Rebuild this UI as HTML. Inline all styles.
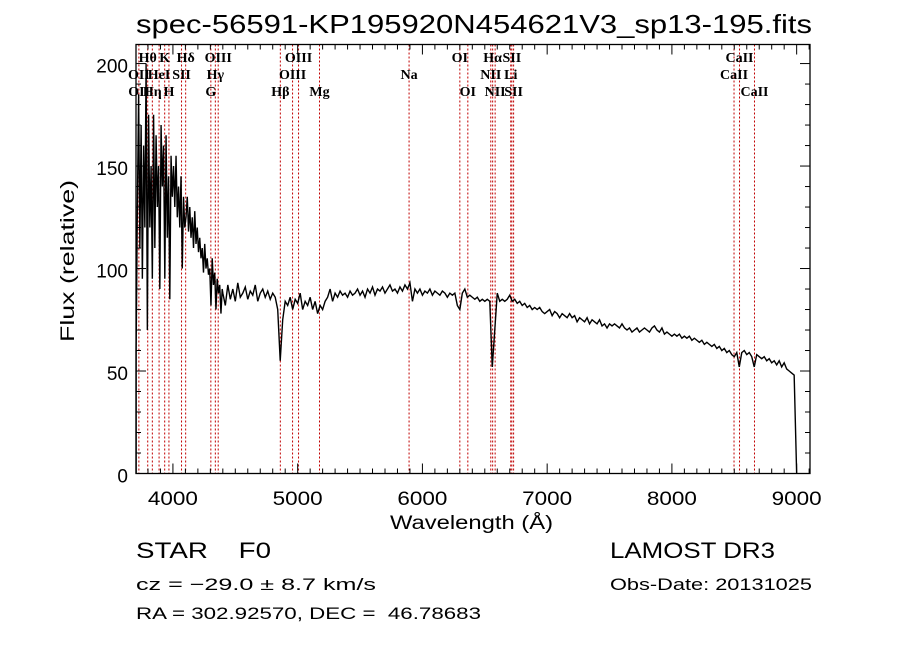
<!DOCTYPE html>
<html><head><meta charset="utf-8"><title>LAMOST spectrum</title>
<style>
html,body{margin:0;padding:0;background:#fff;}
svg{display:block;}
text{font-family:"Liberation Sans",sans-serif;fill:#000;white-space:pre;}
.ser{font-family:"Liberation Serif",serif;}
</style></head>
<body>
<svg id="chart" width="900" height="649" viewBox="0 0 900 649" xmlns="http://www.w3.org/2000/svg" xml:space="preserve">
  <rect x="0" y="0" width="900" height="649" fill="#fff"/>
  <text x="136" y="33" font-size="26" textLength="676" lengthAdjust="spacingAndGlyphs">spec-56591-KP195920N454621V3_sp13-195.fits</text>
  <g id="lines"></g>
  <g id="linelabels"></g>
  <g id="series"></g>
  <rect x="136" y="44.5" width="674" height="429" fill="none" stroke="#000" stroke-width="1.3"/>
  <g id="ticks"></g>
  <g id="ticklabels"></g>
  <text x="390" y="529" font-size="19" textLength="163" lengthAdjust="spacingAndGlyphs">Wavelength (Å)</text>
  <text transform="translate(74,342) rotate(-90)" x="0" y="0" font-size="19" textLength="162" lengthAdjust="spacingAndGlyphs">Flux (relative)</text>
  <text x="136" y="558" font-size="22" textLength="135" lengthAdjust="spacingAndGlyphs">STAR    F0</text>
  <text x="136" y="590" font-size="17" textLength="240" lengthAdjust="spacingAndGlyphs">cz = −29.0 ± 8.7 km/s</text>
  <text x="136" y="619" font-size="17" textLength="345" lengthAdjust="spacingAndGlyphs">RA = 302.92570, DEC =  46.78683</text>
  <text x="610" y="558" font-size="22" textLength="165" lengthAdjust="spacingAndGlyphs">LAMOST DR3</text>
  <text x="610" y="590" font-size="17" textLength="202" lengthAdjust="spacingAndGlyphs">Obs-Date: 20131025</text>
</svg>
<script>
// ---- data ----
const xTickValues = [4000, 5000, 6000, 7000, 8000, 9000];
const xTickLabels = ["4000", "5000", "6000", "7000", "8000", "9000"];
const yTickValues = [0, 50, 100, 150, 200];
const yTickLabels = ["0", "50", "100", "150", "200"];
const lineWaves = [3727,3798,3835,3889,3934,3968,4069,4102,4304,4340,4363,4861,4959,5007,5175,5893,6300,6364,6548,6563,6583,6708,6717,6731,8498,8542,8662];
const lineLabelNames = ["Hθ","K","Hδ","OIII","OIII","OI","Hα","SII","CaII",
                        "OII","HeI","SII","Hγ","OIII","Na","NII","Li","CaII",
                        "OII","Hη","H","G","Hβ","Mg","OI","NII","SII","CaII"];
const lineLabelWaves = [3798,3934,4102,4363,5007,6300,6563,6717,8542,
                        3727,3889,4069,4340,4959,5893,6548,6708,8498,
                        3729,3835,3968,4304,4861,5175,6364,6583,6731,8662];
const lineLabelRows = [0,0,0,0,0,0,0,0,0, 1,1,1,1,1,1,1,1,1, 2,2,2,2,2,2,2,2,2,2];
const blueStart = 3705, blueStep = 10;
const blueFlux = [60,130,185,110,170,95,160,120,200,70,175,120,150,95,175,110,165,130,150,90,170,140,160,95,165,115,145,85,155,135,150,130,155,125,140,120,145,100,135,120,125,135,118,130,115,125,110,128,112,120,108,115,105,110,98,112,100,105,97,100,82,105,92,98,80,95,88,92,78,90];
const redStart = 4400, redStep = 20;
const redFlux = [88,82,92,85,90,84,93,86,88,91,85,89,87,92,84,88,90,86,89,85,88,
86,80,55,75,84,82,86,80,85,83,88,80,84,82,86,80,84,78,82,80,84,86,90,84,88,86,89,87,88,86,89,87,88,90,87,89,86,90,88,91,87,90,89,91,88,90,92,89,90,88,91,89,92,90,93,84,90,88,90,87,89,88,90,87,89,88,87,89,88,86,88,87,88,82,80,88,90,86,87,86,85,86,84,85,84,85,84,52,70,88,84,85,84,85,87,84,85,83,84,82,83,81,82,80,81,80,81,79,78,79,80,77,79,78,76,78,77,76,78,76,77,74,76,75,74,76,73,75,74,73,75,72,73,71,73,72,73,72,71,73,71,70,71,69,70,71,69,70,71,70,69,71,72,70,69,71,68,69,68,67,68,67,68,66,67,66,67,65,66,65,64,65,63,64,63,62,63,61,62,60,61,59,60,58,57,59,52,59,60,58,59,57,52,58,57,56,57,55,56,54,55,53,55,52,54,51,50,49,48,0];

// ---- axes ----
const X0 = 136, X1 = 810, Y0 = 473.5, Y1 = 44.5;
const wMin = 3704, wMax = 9107, fMin = 0, fMax = 209.3;
function xs(w){ return X0 + (w - wMin) / (wMax - wMin) * (X1 - X0); }
function ys(f){ return Y0 - (f - fMin) / (fMax - fMin) * (Y0 - Y1); }
const NS = "http://www.w3.org/2000/svg";
function mk(tag, attrs, parent){
  const e = document.createElementNS(NS, tag);
  for (const k in attrs) e.setAttribute(k, attrs[k]);
  parent.appendChild(e);
  return e;
}

// marker lines
const gl = document.getElementById('lines');
lineWaves.forEach(function(w){
  const l = mk('line', {x1: xs(w), x2: xs(w), y1: Y1, y2: Y0, stroke: '#c00000', 'stroke-width': 1, 'stroke-dasharray': '2,2'}, gl);
  
  
});
const gll = document.getElementById('linelabels');
const rowY = [62, 79, 96];
lineLabelNames.forEach(function(n, i){
  const t = mk('text', {x: xs(lineLabelWaves[i]), y: rowY[lineLabelRows[i]], 'font-size': 14, 'font-weight': 'bold', 'text-anchor': 'middle', 'class': 'ser'}, gll);
  t.textContent = n;
  
  
});

// series
let pts = [];
blueFlux.forEach(function(f, i){ pts.push([blueStart + i * blueStep, f]); });
redFlux.forEach(function(f, i){ pts.push([redStart + i * redStep, f]); });
const d = pts.map(function(p, i){ return (i ? 'L' : 'M') + xs(p[0]).toFixed(2) + ' ' + ys(p[1]).toFixed(2); }).join(' ');
const path = mk('path', {d: 'M' + xs(wMin + 1).toFixed(2) + ' ' + ys(0).toFixed(2) + ' ' + d.replace(/^M/, 'L'), fill: 'none', stroke: '#000', 'stroke-width': 1.4, 'stroke-linejoin': 'miter'}, document.getElementById('series'));



// ticks
const gt = document.getElementById('ticks');
for (let w = 3800; w <= 9100; w += 100) {
  const major = (w % 1000 === 0);
  const len = major ? 10 : 5;
  const b = mk('line', {x1: xs(w), x2: xs(w), y1: Y0, y2: Y0 - len, stroke: '#000', 'stroke-width': 1}, gt);
  
  
  const t = mk('line', {x1: xs(w), x2: xs(w), y1: Y1, y2: Y1 + len, stroke: '#000', 'stroke-width': 1}, gt);
  
  
}
for (let f = 10; f <= 200; f += 10) {
  const major = (f % 50 === 0);
  const len = major ? 10 : 5;
  const l = mk('line', {x1: X0, x2: X0 + len, y1: ys(f), y2: ys(f), stroke: '#000', 'stroke-width': 1}, gt);
  
  
  const r = mk('line', {x1: X1, x2: X1 - len, y1: ys(f), y2: ys(f), stroke: '#000', 'stroke-width': 1}, gt);
  
  
}
const gtl = document.getElementById('ticklabels');
xTickValues.forEach(function(v, i){
  const t = mk('text', {x: xs(v), y: 505, 'font-size': 19, 'text-anchor': 'middle', textLength: 50, lengthAdjust: 'spacingAndGlyphs'}, gtl);
  t.textContent = xTickLabels[i];
  
  
});
yTickValues.forEach(function(v, i){
  const t = mk('text', {x: 128, y: ys(v) + 9, 'font-size': 19, 'text-anchor': 'end'}, gtl);
  t.textContent = yTickLabels[i];
  
  
});
</script>
</body></html>
